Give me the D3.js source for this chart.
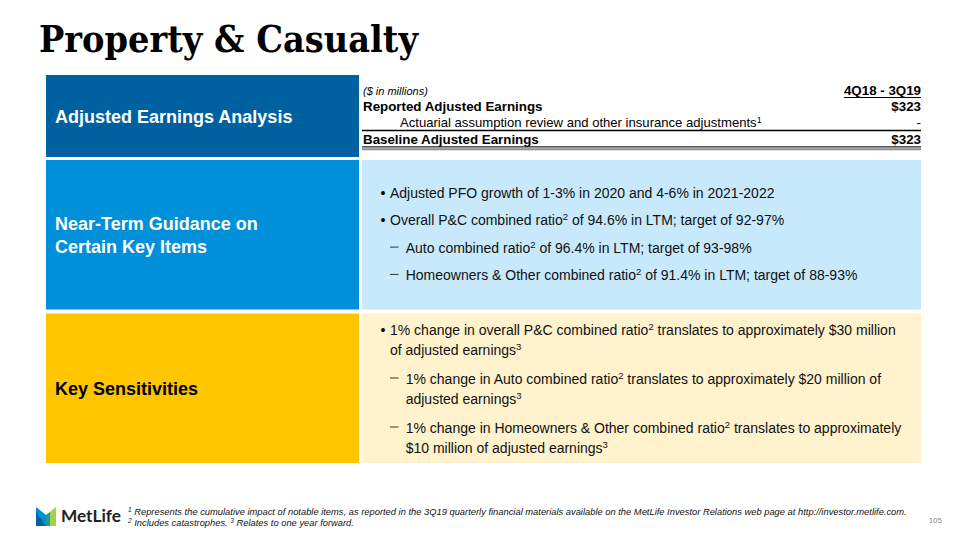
<!DOCTYPE html>
<html><head><meta charset="utf-8">
<script src="https://cdn.jsdelivr.net/npm/d3@7"></script>
<style>body{margin:0;background:#fff}svg{display:block}</style>
</head><body>
<script>
// ---------- data ----------
const title = "Property & Casualty";
const sectionLabels = [["Adjusted Earnings Analysis"], ["Near-Term Guidance on", "Certain Key Items"], ["Key Sensitivities"]];
const sectionFills = ["#0061A0", "#0090DA", "#FFC600"];
const sectionTextColors = ["#ffffff", "#ffffff", "#000000"];
const panelFills = ["#ffffff", "#C7E9FB", "#FFF2CC"];
const tableUnits = "($ in millions)";
const tableHeader = "4Q18 - 3Q19";
const tableLabels = ["Reported Adjusted Earnings", "Actuarial assumption review and other insurance adjustments^1", "Baseline Adjusted Earnings"];
const tableValues = ["$323", "-", "$323"];
const tableBold = [true, false, true];
const guidanceBullets = [
  {level: 1, lines: ["Adjusted PFO growth of 1-3% in 2020 and 4-6% in 2021-2022"]},
  {level: 1, lines: ["Overall P&C combined ratio^2 of 94.6% in LTM; target of 92-97%"]},
  {level: 2, lines: ["Auto combined ratio^2 of 96.4% in LTM; target of 93-98%"]},
  {level: 2, lines: ["Homeowners & Other combined ratio^2 of 91.4% in LTM; target of 88-93%"]}
];
const sensitivityBullets = [
  {level: 1, lines: ["1% change in overall P&C combined ratio^2 translates to approximately $30 million", "of adjusted earnings^3"]},
  {level: 2, lines: ["1% change in Auto combined ratio^2 translates to approximately $20 million of", "adjusted earnings^3"]},
  {level: 2, lines: ["1% change in Homeowners & Other combined ratio^2 translates to approximately", "$10 million of adjusted earnings^3"]}
];
const footnotes = [
  "^1 Represents the cumulative impact of notable items, as reported in the 3Q19 quarterly financial materials available on the MetLife Investor Relations web page at http://investor.metlife.com.",
  "^2 Includes catastrophes. ^3 Relates to one year forward."
];
const pageNumber = "105";
const brand = "MetLife";

// ---------- layout ----------
const W = 960, H = 540;
const svg = d3.select("body").append("svg").attr("width", W).attr("height", H)
  .style("font-family", "'Liberation Sans', Arial, sans-serif");

const rowY = d3.scaleOrdinal().domain([0,1,2]).range([75, 160, 313.5]);
const rowH = d3.scaleOrdinal().domain([0,1,2]).range([82, 149.5, 149.5]);
const leftX = 46, leftW = 313, rightX = 362, rightW = 559;

function richText(sel, str, supSize, rise) {
  const parts = str.split(/\^(\d)/);
  parts.forEach((p, i) => {
    if (p === "") return;
    if (i % 2 === 1) {
      sel.append("tspan").attr("font-size", supSize).attr("dy", -rise).text(p);
    } else {
      const t = sel.append("tspan").text(p);
      if (i > 0) t.attr("dy", rise);
    }
  });
}

// title
svg.append("text").attr("x", 39).attr("y", 52)
  .attr("font-family", "'DejaVu Serif', 'Liberation Serif', serif")
  .attr("font-weight", "bold").attr("font-size", 37)
  .attr("textLength", 379).attr("lengthAdjust", "spacingAndGlyphs")
  .attr("fill", "#000").text(title);

// section boxes
const rows = svg.selectAll("g.row").data(sectionLabels).join("g").attr("class", "row");
rows.append("rect").attr("x", rightX).attr("y", (d, i) => rowY(i)).attr("width", rightW)
  .attr("height", (d, i) => rowH(i)).attr("fill", (d, i) => panelFills[i]);
rows.append("rect").attr("x", leftX).attr("y", (d, i) => rowY(i)).attr("width", leftW)
  .attr("height", (d, i) => rowH(i)).attr("fill", (d, i) => sectionFills[i]);
rows.each(function(lines, i) {
  const cy = rowY(i) + rowH(i) / 2;
  const lh = 23.5;
  const y0 = cy - (lines.length - 1) * lh / 2 + 6.5;
  d3.select(this).selectAll("text.lab").data(lines).join("text").attr("class", "lab")
    .attr("x", 55).attr("y", (d, k) => y0 + k * lh)
    .attr("font-weight", "bold").attr("font-size", 18)
    .attr("fill", sectionTextColors[i]).text(d => d);
});

// table
const tRight = 921, tLeft = 363;
svg.append("text").attr("x", tLeft).attr("y", 95).attr("font-size", 11).attr("font-style", "italic").text(tableUnits);
const hdr = svg.append("text").attr("x", tRight).attr("y", 95).attr("text-anchor", "end")
  .attr("font-size", 13.33).attr("font-weight", "bold").text(tableHeader);
const hw = hdr.node().getComputedTextLength();
svg.append("line").attr("x1", tRight - hw).attr("x2", tRight).attr("y1", 97.5).attr("y2", 97.5)
  .attr("stroke", "#000").attr("stroke-width", 1);
const rowBase = d3.scalePoint().domain(d3.range(tableLabels.length)).range([110.5, 144]);
tableLabels.forEach((lab, i) => {
  const t = svg.append("text").attr("x", tableBold[i] ? tLeft : 400).attr("y", rowBase(i))
    .attr("font-size", tableBold[i] ? 13.33 : 13.1).attr("font-weight", tableBold[i] ? "bold" : "normal");
  richText(t, lab, 9, 4.5);
  svg.append("text").attr("x", tRight).attr("y", rowBase(i)).attr("text-anchor", "end")
    .attr("font-size", 13.33).attr("font-weight", tableBold[i] ? "bold" : "normal").text(tableValues[i]);
});
svg.append("line").attr("x1", rightX).attr("x2", tRight).attr("y1", 130.5).attr("y2", 130.5)
  .attr("stroke", "#000").attr("stroke-width", 1.3);
svg.append("line").attr("x1", rightX).attr("x2", tRight).attr("y1", 146.8).attr("y2", 146.8)
  .attr("stroke", "#222").attr("stroke-width", 1.3);
svg.append("line").attr("x1", rightX).attr("x2", tRight).attr("y1", 149.2).attr("y2", 149.2)
  .attr("stroke", "#8c8c8c").attr("stroke-width", 2);

// bullets
function drawBullets(items, startY, gaps) {
  const lh = 20.5;
  let y = startY;
  items.forEach((it, n) => {
    const tx = it.level === 1 ? 390 : 405.7;
    if (it.level === 1) {
      svg.append("text").attr("x", 380.5).attr("y", y).attr("font-size", 14).attr("fill", "#000").text("•");
    } else {
      svg.append("line").attr("x1", 390).attr("x2", 398.5).attr("y1", y - 5.5).attr("y2", y - 5.5)
        .attr("stroke", "#333").attr("stroke-width", 1);
    }
    it.lines.forEach((ln, k) => {
      const t = svg.append("text").attr("x", tx).attr("y", y + k * lh).attr("font-size", 14).attr("fill", "#111");
      richText(t, ln, 9.5, 5);
    });
    y += (it.lines.length - 1) * lh + gaps;
  });
}
drawBullets(guidanceBullets, 198, 27.3);
drawBullets(sensitivityBullets, 334.5, 28.5);

// footnotes
const fnY = d3.scalePoint().domain([0, 1]).range([515, 526]);
footnotes.forEach((f, i) => {
  const t = svg.append("text").attr("x", 128).attr("y", fnY(i)).attr("font-size", 9.35)
    .attr("font-style", "italic").attr("fill", "#111");
  const parts = f.split(/\^(\d)/);
  parts.forEach((p, j) => {
    if (p === "") return;
    if (j % 2 === 1) t.append("tspan").attr("font-size", 6.5).attr("dy", -3).text(p);
    else { const s = t.append("tspan").text(p); if (j > 0) s.attr("dy", 3); }
  });
});
svg.append("text").attr("x", 942).attr("y", 523).attr("text-anchor", "end").attr("font-size", 8)
  .attr("fill", "#888").text(pageNumber);

// logo
const logo = svg.append("g");
const line = d3.line();
logo.append("path").attr("d", line([[36,507],[46,515],[46,526],[36,526]]) + "Z").attr("fill", "#0090DA");
logo.append("path").attr("d", line([[36,512],[46,526],[36,526]]) + "Z").attr("fill", "#0061A0");
logo.append("path").attr("d", line([[56,507],[56,526],[46,526],[46,515]]) + "Z").attr("fill", "#A4CE4E");
logo.append("path").attr("d", line([[46,515],[50,512],[50,526],[46,526]]) + "Z").attr("fill", "#1C9F8E");
logo.append("text").attr("x", 61).attr("y", 522).attr("font-family", "Lato, 'DejaVu Sans', sans-serif")
  .attr("font-weight", "bold").attr("font-size", 17).attr("textLength", 60).attr("lengthAdjust", "spacingAndGlyphs")
  .attr("fill", "#222").text(brand);
</script>
</body></html>
